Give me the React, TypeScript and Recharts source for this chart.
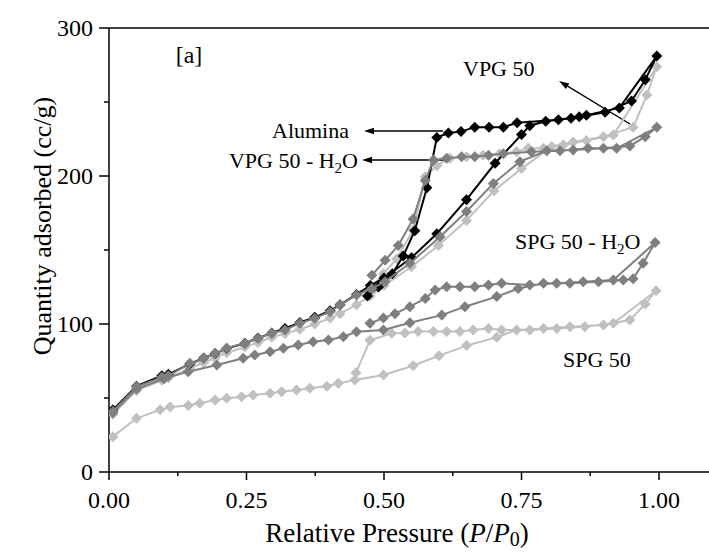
import { Customized, Scatter, ScatterChart, XAxis, YAxis } from "recharts";

const FONT = "'Liberation Serif', 'Times New Roman', serif";

const pressureTicks = [0, 0.125, 0.25, 0.375, 0.5, 0.625, 0.75, 0.875, 1.0];
const quantityTicks = [0, 50, 100, 150, 200, 250, 300];

// SPG 50 (adsorption then desorption)
const spgP = [
  0.007, 0.05, 0.093, 0.111, 0.144, 0.165, 0.193, 0.214, 0.241, 0.262, 0.293, 0.314, 0.341, 0.365, 0.396,
  0.417, 0.447, 0.499, 0.553, 0.6, 0.65, 0.705, 0.741, 0.79, 0.838, 0.899, 0.947, 0.975, 0.9945,
  0.917, 0.865, 0.814, 0.765, 0.714, 0.69, 0.662, 0.638, 0.614, 0.59, 0.562, 0.538, 0.514, 0.4745, 0.449,
];
const spgQ = [
  23.9, 36.3, 42, 44, 45, 46.4, 48.6, 49.8, 50.9, 52, 53.2, 54.3, 55.4, 56.6, 58,
  60, 62.2, 65.5, 71.8, 78.6, 85.4, 91, 96, 97, 98.2, 99.3, 102.7, 113.5, 122.5,
  100.5, 98.2, 97, 96, 96, 97, 96, 95, 95, 95, 95, 94, 93.7, 89, 67,
];

// VPG 50
const vpgP = [
  0.007, 0.05, 0.096, 0.108, 0.147, 0.172, 0.193, 0.214, 0.247, 0.271, 0.296, 0.32, 0.347, 0.374, 0.402,
  0.42, 0.45, 0.475, 0.5, 0.55, 0.599, 0.65, 0.7, 0.75, 0.805, 0.844, 0.899, 0.953, 0.978, 0.9958,
  0.917, 0.868, 0.826, 0.79, 0.762, 0.741, 0.71, 0.68, 0.65, 0.62, 0.596, 0.575, 0.553, 0.523, 0.499, 0.475,
];
const vpgQ = [
  39, 55, 62, 63.5, 70, 74, 77, 80.5, 84.5, 87.5, 91, 93.5, 96.5, 100, 104,
  107, 113, 119, 126, 138.7, 153, 170, 190, 205, 220, 223, 226.6, 233, 254.7, 273.8,
  227.7, 224, 221, 218.7, 218.7, 216.4, 215, 214, 213, 212, 207, 199.5, 163.5, 144, 134, 124,
];

// Alumina
const aluminaP = [
  0.007, 0.05, 0.096, 0.108, 0.147, 0.172, 0.193, 0.214, 0.247, 0.271, 0.296, 0.32, 0.347, 0.374, 0.402,
  0.42, 0.45, 0.475, 0.5, 0.55, 0.596, 0.65, 0.702, 0.75, 0.765, 0.794, 0.84, 0.902, 0.95, 0.975, 0.996,
  0.928, 0.868, 0.855, 0.817, 0.742, 0.717, 0.691, 0.665, 0.64, 0.617, 0.596, 0.578, 0.556, 0.535, 0.515,
  0.49, 0.47,
];
const aluminaQ = [
  42, 58, 65, 66, 73, 77, 80, 83.5, 87, 90.5, 94, 97, 101, 104.5, 109,
  113, 120, 126, 131, 144.8, 161, 184, 208.6, 228, 234, 237, 239, 243, 250.7, 265, 281,
  246, 241, 240, 238, 236, 233, 233, 233, 230, 229, 226, 192, 163, 146, 134,
  125, 119,
];

// SPG 50 - H2O
const spgWaterP = [
  0.007, 0.05, 0.1, 0.144, 0.196, 0.244, 0.265, 0.293, 0.317, 0.344, 0.371, 0.399, 0.426, 0.45, 0.499,
  0.547, 0.605, 0.647, 0.705, 0.744, 0.79, 0.838, 0.89, 0.935, 0.953, 0.971, 0.993,
  0.917, 0.862, 0.814, 0.765, 0.714, 0.69, 0.665, 0.638, 0.614, 0.593, 0.575, 0.547, 0.52, 0.499, 0.4745,
];
const spgWaterQ = [
  40, 56, 63, 67.8, 72.3, 76.8, 79, 81.3, 83.6, 85.8, 88, 89.2, 91.4, 94.8, 96,
  100.9, 106, 111.7, 118.5, 124, 127.5, 127.5, 128.6, 129.7, 130.5, 141, 155,
  129.7, 128.6, 127.5, 126.4, 127.5, 126.4, 125.2, 125.2, 125.2, 123, 117.3, 111.7, 107, 104, 100.5,
];

// VPG 50 - H2O
const vpgWaterP = [
  0.007, 0.05, 0.096, 0.108, 0.147, 0.172, 0.193, 0.214, 0.247, 0.271, 0.296, 0.32, 0.347, 0.374, 0.402,
  0.42, 0.45, 0.478, 0.502, 0.547, 0.602, 0.65, 0.699, 0.747, 0.796, 0.844, 0.899, 0.947, 0.975, 0.996,
  0.923, 0.871, 0.82, 0.768, 0.717, 0.69, 0.665, 0.641, 0.614, 0.59, 0.575, 0.553, 0.526, 0.502, 0.478,
];
const vpgWaterQ = [
  41, 57.6, 64, 65, 73.4, 76.8, 80.2, 83.6, 87, 90.3, 93.7, 96, 100.5, 103.8, 108.3,
  112.8, 119.6, 124, 128.6, 141, 159, 176, 195, 209.7, 217, 217.6, 218.7, 220.3, 226.6, 232.9,
  218.7, 218.7, 217, 216.4, 215, 214, 213, 213, 212, 210.8, 197, 171, 153, 143, 133,
];

const series = [
  { name: "SPG 50", p: spgP, q: spgQ, color: "#c0c0c0" },
  { name: "VPG 50", p: vpgP, q: vpgQ, color: "#c0c0c0" },
  { name: "Alumina", p: aluminaP, q: aluminaQ, color: "#000000" },
  { name: "SPG 50 - H2O", p: spgWaterP, q: spgWaterQ, color: "#7f7f7f" },
  { name: "VPG 50 - H2O", p: vpgWaterP, q: vpgWaterQ, color: "#7f7f7f" },
];

const isMajor = (v: number, step: number) => Math.abs(v / step - Math.round(v / step)) < 1e-6;

function diamond(color: string) {
  return (props: any) => {
    const { cx, cy } = props;
    if (cx == null || cy == null) return <g />;
    const r = 5.5;
    return <polygon points={`${cx},${cy - r} ${cx + r},${cy} ${cx},${cy + r} ${cx - r},${cy}`} fill={color} />;
  };
}

function BottomTick({ x, y, payload }: any) {
  const major = isMajor(payload.value, 0.25);
  return (
    <g>
      <line x1={x} x2={x} y1={y} y2={y + (major ? 8 : 4)} stroke="#000" strokeWidth={1.5} />
      {major && (
        <text x={x} y={y + 36} textAnchor="middle" fontFamily={FONT} fontSize={24} fill="#000">
          {payload.value.toFixed(2)}
        </text>
      )}
    </g>
  );
}

function TopTick({ x, y }: any) {
  return <line x1={x} x2={x} y1={y} y2={y + 4} stroke="#000" strokeWidth={1.2} />;
}

function LeftTick({ x, y, payload }: any) {
  const major = isMajor(payload.value, 100);
  return (
    <g>
      <line x1={x - (major ? 10 : 5)} x2={x} y1={y} y2={y} stroke="#000" strokeWidth={1.5} />
      {major && (
        <text x={x - 16} y={y + 8} textAnchor="end" fontFamily={FONT} fontSize={24} fill="#000">
          {payload.value}
        </text>
      )}
    </g>
  );
}

function Arrow({ x1, y1, x2, y2 }: { x1: number; y1: number; x2: number; y2: number }) {
  const a = Math.atan2(y2 - y1, x2 - x1);
  const len = 10;
  const w = 3.2;
  const bx = x2 - len * Math.cos(a);
  const by = y2 - len * Math.sin(a);
  const px = -Math.sin(a) * w;
  const py = Math.cos(a) * w;
  return (
    <g>
      <line x1={x1} y1={y1} x2={bx} y2={by} stroke="#000" strokeWidth={1.4} />
      <polygon points={`${x2},${y2} ${bx + px},${by + py} ${bx - px},${by - py}`} fill="#000" />
    </g>
  );
}

function Annotations() {
  const t = { fontFamily: FONT, fontSize: 22, fill: "#000" };
  return (
    <g>
      <text x={189} y={63} textAnchor="middle" {...t} fontSize={24}>
        [a]
      </text>
      <text x={349} y={138} textAnchor="end" {...t}>
        Alumina
      </text>
      <Arrow x1={443} y1={131} x2={364} y2={131} />
      <text x={358} y={168} textAnchor="end" {...t}>
        VPG 50 - H<tspan dy={5} fontSize={15}>2</tspan>
        <tspan dy={-5}>O</tspan>
      </text>
      <Arrow x1={447} y1={160} x2={362} y2={160} />
      <text x={463} y={76} {...t}>
        VPG 50
      </text>
      <Arrow x1={630} y1={124} x2={559} y2={81} />
      <text x={515} y={249} {...t}>
        SPG 50 - H<tspan dy={5} fontSize={15}>2</tspan>
        <tspan dy={-5}>O</tspan>
      </text>
      <text x={563} y={367} {...t}>
        SPG 50
      </text>
      <text x={397} y={542} textAnchor="middle" fontFamily={FONT} fontSize={27} fill="#000">
        Relative Pressure (<tspan fontStyle="italic">P</tspan>/<tspan fontStyle="italic">P</tspan>
        <tspan dy={4} fontSize={20}>0</tspan>
        <tspan dy={-4}>)</tspan>
      </text>
      <text
        x={51}
        y={226}
        textAnchor="middle"
        transform="rotate(-90 51 226)"
        fontFamily={FONT}
        fontSize={26}
        fill="#000"
      >
        Quantity adsorbed (cc/g)
      </text>
    </g>
  );
}

export default function App() {
  return (
    <div
      style={{ position: "fixed", left: 0, top: 0, width: 709, height: 553, overflow: "hidden", background: "#fff" }}
    >
      <ScatterChart width={730} height={553} margin={{ top: 0, right: 16, bottom: 0, left: 0 }}>
        <XAxis
          xAxisId="bottom"
          dataKey="p"
          type="number"
          domain={[0, 1.1]}
          ticks={pressureTicks}
          interval={0}
          height={81}
          tickSize={0}
          tickMargin={0}
          tick={<BottomTick />}
          axisLine={{ stroke: "#000", strokeWidth: 1.5 }}
          allowDataOverflow
        />
        <XAxis
          xAxisId="top"
          orientation="top"
          type="number"
          domain={[0, 1.1]}
          ticks={pressureTicks}
          interval={0}
          height={28}
          tickSize={0}
          tickMargin={0}
          tick={<TopTick />}
          axisLine={{ stroke: "#000", strokeWidth: 1.5 }}
          allowDataOverflow
        />
        <YAxis
          dataKey="q"
          type="number"
          domain={[0, 300]}
          ticks={quantityTicks}
          interval={0}
          width={109}
          tickSize={0}
          tickMargin={0}
          tick={<LeftTick />}
          axisLine={{ stroke: "#000", strokeWidth: 1.5 }}
          allowDataOverflow
        />
        {series.map((s) => (
          <Scatter
            key={s.name}
            name={s.name}
            xAxisId="bottom"
            data={s.p.map((p, i) => ({ p, q: s.q[i] }))}
            fill={s.color}
            line={{ stroke: s.color, strokeWidth: 2 }}
            shape={diamond(s.color)}
            isAnimationActive={false}
            legendType="none"
          />
        ))}
        <Customized component={Annotations} />
      </ScatterChart>
    </div>
  );
}
